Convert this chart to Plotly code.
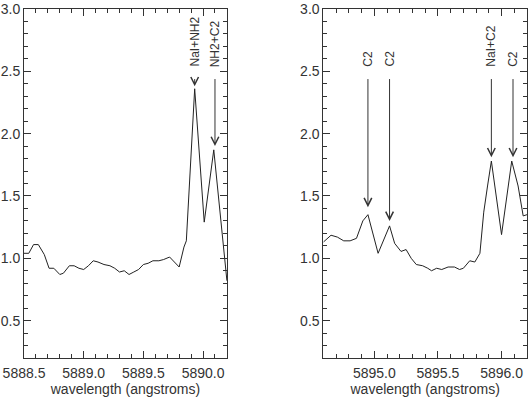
import plotly.graph_objects as go
from plotly.subplots import make_subplots

# ---- data ----
left_wl = [5888.50, 5888.54, 5888.58, 5888.62, 5888.67, 5888.71, 5888.75, 5888.80, 5888.83,
           5888.88, 5888.92, 5888.96, 5889.00, 5889.04, 5889.08, 5889.12, 5889.17, 5889.22,
           5889.26, 5889.30, 5889.34, 5889.38, 5889.42, 5889.46, 5889.50, 5889.54, 5889.58,
           5889.63, 5889.67, 5889.72, 5889.80, 5889.84, 5889.86, 5889.93, 5890.01, 5890.09,
           5890.20]
left_flux = [1.04, 1.04, 1.11, 1.11, 1.03, 0.92, 0.92, 0.87, 0.88,
             0.94, 0.94, 0.92, 0.91, 0.94, 0.98, 0.97, 0.95, 0.94,
             0.92, 0.89, 0.90, 0.87, 0.89, 0.91, 0.95, 0.96, 0.98,
             0.98, 0.99, 1.01, 0.93, 1.09, 1.14, 2.36, 1.29, 1.87,
             0.82]

right_wl = [5894.60, 5894.66, 5894.71, 5894.76, 5894.81, 5894.86, 5894.91, 5894.95, 5895.03,
            5895.12, 5895.16, 5895.21, 5895.25, 5895.29, 5895.33, 5895.38, 5895.42, 5895.45,
            5895.49, 5895.53, 5895.58, 5895.63, 5895.67, 5895.70, 5895.75, 5895.79, 5895.83,
            5895.86, 5895.89, 5895.92, 5896.00, 5896.08, 5896.13, 5896.17, 5896.20]
right_flux = [1.13, 1.185, 1.17, 1.14, 1.14, 1.16, 1.30, 1.35, 1.04,
              1.26, 1.12, 1.055, 1.07, 1.00, 0.95, 0.94, 0.92, 0.90,
              0.92, 0.91, 0.93, 0.93, 0.91, 0.92, 0.98, 0.97, 1.04,
              1.37, 1.58, 1.78, 1.19, 1.78, 1.58, 1.34, 1.35]

left_labels = ["NaI+NH2", "NH2+C2"]
left_label_wl = [5889.93, 5890.10]
left_tip = [2.38, 1.90]

right_labels = ["C2", "C2", "NaI+C2", "C2"]
right_label_wl = [5894.95, 5895.12, 5895.92, 5896.09]
right_tip = [1.41, 1.30, 1.81, 1.81]

arrow_top = 2.45
label_base = 2.52

left_range = [5888.5, 5890.2]
right_range = [5894.6, 5896.2]
y_range = [0.2, 3.0]
x_title = "wavelength (angstroms)"

# ---- figure ----
fig = make_subplots(rows=1, cols=2, horizontal_spacing=0.1918)
line_col = "#222222"
fig.add_trace(go.Scatter(x=left_wl, y=left_flux, mode="lines",
                         line=dict(color=line_col, width=1), showlegend=False), row=1, col=1)
fig.add_trace(go.Scatter(x=right_wl, y=right_flux, mode="lines",
                         line=dict(color=line_col, width=1), showlegend=False), row=1, col=2)

font = dict(family="Liberation Sans, Arial, sans-serif", size=14, color="#333333")
axis_common = dict(showgrid=False, zeroline=False, showline=True, linecolor="#333333",
                   linewidth=1, mirror="ticks", ticks="inside", ticklen=7,
                   tickcolor="#333333", tickfont=font, ticklabeloverflow="allow")

fig.update_xaxes(**axis_common, dtick=0.5, tickformat=".1f", ticklabelstandoff=2,
                 minor=dict(ticks="inside", ticklen=4, dtick=0.1, tickcolor="#333333"),
                 title=dict(text=x_title, font=font, standoff=5))
fig.update_xaxes(range=left_range, tick0=5888.5, domain=[0, 0.4034], row=1, col=1)
fig.update_xaxes(range=right_range, tick0=5895.0, domain=[0.5952, 1.0], row=1, col=2)
fig.update_yaxes(**axis_common, range=y_range, dtick=0.5, tick0=0.5, tickformat=".1f",
                 minor=dict(ticks="inside", ticklen=4, dtick=0.1, tickcolor="#333333"))

annos = []
def add_marks(labels, xs, tips, xref, yref):
    for lab, xv, tv in zip(labels, xs, tips):
        annos.append(dict(x=xv, y=tv, ax=xv, ay=arrow_top, xref=xref, yref=yref,
                          axref=xref, ayref=yref, text="", showarrow=True,
                          arrowhead=5, arrowsize=1.5, arrowwidth=1, arrowcolor="#333333"))
        annos.append(dict(x=xv, y=label_base, xref=xref, yref=yref, text=lab,
                          showarrow=False, textangle=-90, xanchor="center", yanchor="bottom",
                          font=dict(family="Liberation Sans, Arial, sans-serif", size=12,
                                    color="#333333")))

add_marks(left_labels, left_label_wl, left_tip, "x", "y")
add_marks(right_labels, right_label_wl, right_tip, "x2", "y2")

fig.update_layout(width=529, height=397, margin=dict(l=23, r=1, t=1, b=38),
                  plot_bgcolor="white", paper_bgcolor="white", annotations=annos,
                  font=font)

fig.write_html("out.html", config={"displayModeBar": False},
               post_script="document.body.style.margin='0';document.body.style.overflow='hidden';")
